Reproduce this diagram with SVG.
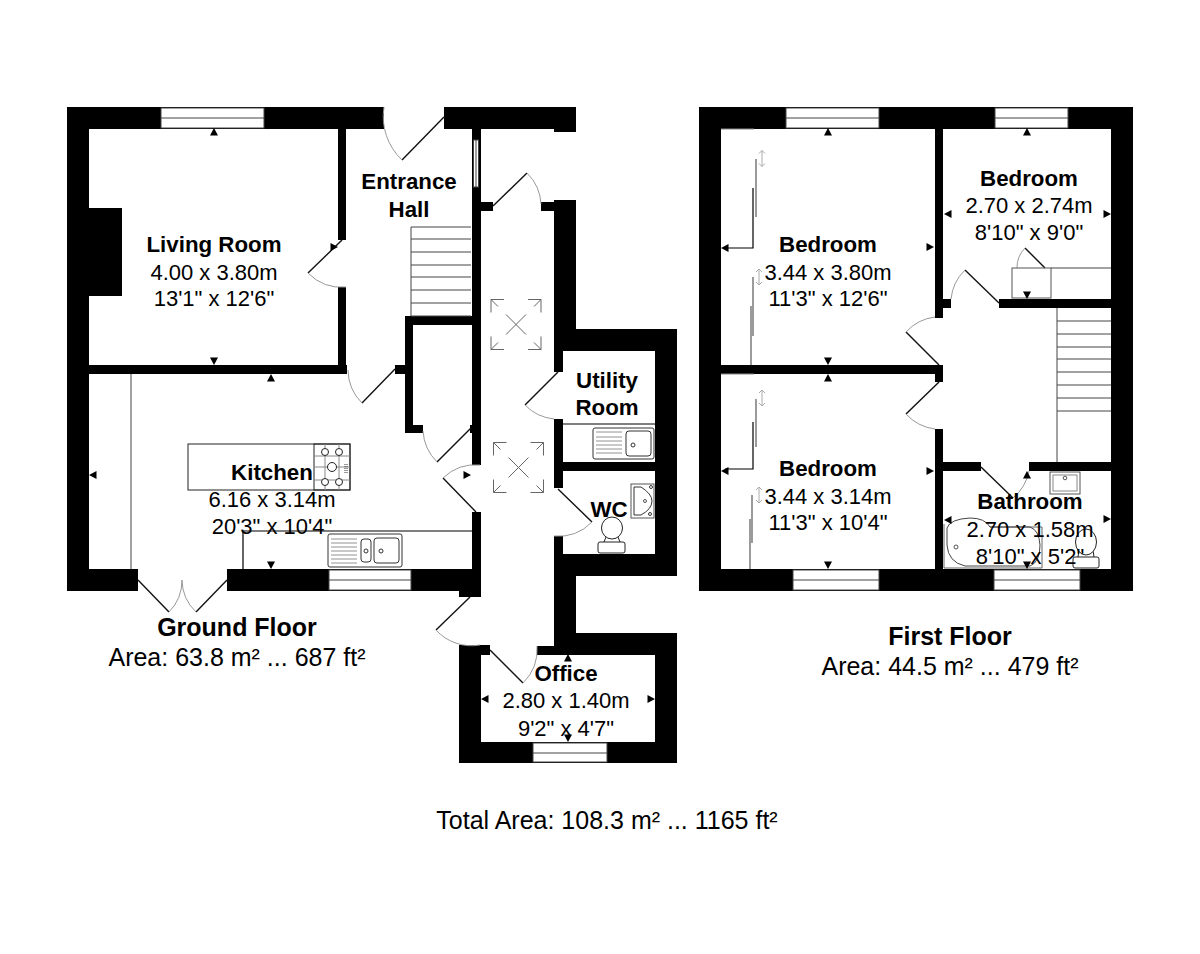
<svg xmlns="http://www.w3.org/2000/svg" width="1200" height="954" viewBox="0 0 1200 954">
<style>
text{font-family:"Liberation Sans",Arial,sans-serif;font-size:22px;fill:#000;text-anchor:middle}
.b{font-weight:bold;font-size:22.300px}
.t{font-size:25px}
.w{fill:#000}
.win{fill:#fff;stroke:#444;stroke-width:1}
.l{fill:none;stroke:#444;stroke-width:1}
.k{fill:none;stroke:#000;stroke-width:1.2}
.d{fill:none;stroke:#111;stroke-width:1.4}
.a{fill:none;stroke:#999;stroke-width:1}
.g{fill:none;stroke:#666;stroke-width:1.3}
.s{fill:none;stroke:#888;stroke-width:1}
.f{fill:#fff;stroke:#333;stroke-width:1}
</style>
<defs>
<polygon id="tri" points="0,-4 4,3.500 -4,3.500" fill="#000"/>
<g id="dbl" class="s"><path d="M0,-8V8M-3,-5L0,-8L3,-5M-3,5L0,8L3,5" fill="none" stroke="#aaa" stroke-width="1"/></g>
<g id="sky"><path d="M-25,-25H-12M12,-25H25V-12M25,12V25H12M-12,25H-25V12M-25,-12V-25M-25,-25L-18,-18M25,-25L18,-18M25,25L18,18M-25,25L-18,18M-10,-10L10,10M10,-10L-10,10" fill="none" stroke="#666" stroke-width="1"/></g>
</defs>
<rect width="1200" height="954" fill="#fff"/>

<g id="ground-walls" class="w">
<rect x="67" y="107" width="317" height="22"/>
<rect x="444" y="107" width="132" height="22"/>
<rect x="554" y="107" width="22" height="25"/>
<rect x="67" y="107" width="22" height="484"/>
<rect x="89" y="208" width="33" height="88"/>
<rect x="67" y="569" width="71" height="22"/>
<rect x="227" y="569" width="254" height="22"/>
<rect x="459" y="569" width="22" height="28"/>
<rect x="472" y="129" width="9" height="336"/>
<rect x="472" y="512" width="9" height="60"/>
<rect x="338" y="129" width="8" height="111"/>
<rect x="338" y="287" width="8" height="80"/>
<rect x="89" y="365" width="258" height="9"/>
<rect x="395" y="365" width="10" height="9"/>
<rect x="405" y="316" width="8" height="117"/>
<rect x="405" y="316" width="67" height="9"/>
<rect x="405" y="425" width="18" height="8"/>
<rect x="470" y="425" width="2" height="8"/>
<rect x="480" y="202" width="13" height="9"/>
<rect x="541" y="202" width="13" height="9"/>
<rect x="554" y="200" width="22" height="151"/>
<rect x="554" y="329" width="123" height="22"/>
<rect x="554" y="351" width="9" height="21"/>
<rect x="554" y="419" width="9" height="69"/>
<rect x="554" y="536" width="9" height="30"/>
<rect x="655" y="329" width="22" height="247"/>
<rect x="563" y="462" width="92" height="9"/>
<rect x="554" y="554" width="123" height="22"/>
<rect x="554" y="554" width="22" height="101"/>
<rect x="554" y="633" width="123" height="22"/>
<rect x="655" y="633" width="22" height="130"/>
<rect x="459" y="742" width="218" height="21"/>
<rect x="459" y="645" width="22" height="118"/>
<rect x="481" y="645" width="9" height="10"/>
<rect x="537" y="646" width="17" height="9"/>
</g>

<g id="first-walls" class="w">
<rect x="699" y="107" width="434" height="22"/>
<rect x="699" y="107" width="22" height="484"/>
<rect x="1111" y="107" width="22" height="484"/>
<rect x="699" y="569" width="434" height="22"/>
<rect x="935" y="129" width="8" height="189"/>
<rect x="943" y="299" width="8" height="9"/>
<rect x="999" y="299" width="112" height="9"/>
<rect x="721" y="365" width="222" height="9"/>
<rect x="935" y="365" width="8" height="17"/>
<rect x="935" y="429" width="8" height="140"/>
<rect x="943" y="462" width="38" height="9"/>
<rect x="1029" y="462" width="82" height="9"/>
</g>

<g id="windows">
<g class="win">
<rect x="161" y="108" width="103" height="20"/>
<rect x="329" y="570" width="82" height="20"/>
<rect x="533" y="743" width="74" height="19"/>
<rect x="473.500" y="140" width="5" height="47"/>
<rect x="786" y="108" width="93" height="20"/>
<rect x="995" y="108" width="73" height="20"/>
<rect x="793" y="570" width="86" height="20"/>
<rect x="994" y="570" width="86" height="20"/>
</g>
<path class="l" d="M161,118H264M329,580H411M533,753H607M476,140V187M786,118H879M995,118H1068M793,580H879M994,580H1080"/>
</g>

<g id="doors">
<g class="d">
<path d="M444,117L402,160"/><path d="M493,206L527,173"/><path d="M342,240L308,273"/><path d="M395,369L362,403"/>
<path d="M471,428L437,462"/><path d="M476,512L443,478"/><path d="M558,372L525,405"/><path d="M558,489L592,522"/>
<path d="M470,597L436,630"/><path d="M490,650L523,683"/><path d="M138,580L169,612"/><path d="M227,580L196,612"/>
<path d="M939,365L906,332"/><path d="M939,382L906,414"/><path d="M999,303L965,270"/><path d="M981,467L1013,498"/><path d="M1045,268L1025,248"/>
</g>
<g class="a">
<path d="M402,160A60,60 0 0 1 384,107"/><path d="M527,173A47,47 0 0 1 541,204"/><path d="M308,273A47,47 0 0 0 346,287"/><path d="M362,403A47,47 0 0 1 348,370"/>
<path d="M437,462A48,48 0 0 1 423,431"/><path d="M443,478A47,47 0 0 1 480,465"/><path d="M525,405A47,47 0 0 0 554,419"/><path d="M592,522A47,47 0 0 1 554,536"/>
<path d="M436,630A48,48 0 0 0 480,645"/><path d="M523,683A47,47 0 0 0 537,646"/><path d="M169,612A45,45 0 0 0 182,580"/><path d="M196,612A45,45 0 0 1 182,580"/>
<path d="M906,332A47,47 0 0 1 935,317"/><path d="M906,414A47,47 0 0 0 935,429"/><path d="M965,270A47,47 0 0 0 951,299"/><path d="M1013,498A47,47 0 0 0 1029,471"/><path d="M1025,248A28,28 0 0 0 1017,268"/>
</g>
</g>

<g id="stairs" class="l">
<path d="M411,316V227H471M411,239H471M411,252H471M411,265H471M411,277H471M411,290H471M411,303H471M411,316H471"/>
<path d="M1057,308V462M1057,321H1111M1057,334H1111M1057,347H1111M1057,359H1111M1057,372H1111M1057,385H1111M1057,398H1111M1057,411H1111"/>
</g>

<g id="skylights">
<use href="#sky" x="516" y="324.500"/>
<use href="#sky" x="518.500" y="467.500"/>
</g>

<g id="kitchen-fittings">
<path class="l" d="M131,374V569"/>
<path class="k" d="M243,569V531H472"/>
<rect x="188" y="444" width="162" height="46" fill="none" stroke="#222"/>
<rect x="314" y="444" width="36" height="46" fill="none" stroke="#222"/>
<path d="M325,444V490M339,444V490M314,456H350M314,467H350M314,480H350" fill="none" stroke="#888" stroke-width="1"/>
<g fill="#fff" stroke="#222"><circle cx="325" cy="452" r="3.500"/><circle cx="339" cy="452" r="3.500"/><circle cx="332" cy="467" r="4.500"/><circle cx="325" cy="482" r="3.500"/><circle cx="339" cy="482" r="3.500"/></g>
<path d="M345,464V474M347,464V474" stroke="#333" stroke-dasharray="1 1" fill="none"/>
<rect x="328" y="534" width="74" height="33" rx="2" fill="#fff" stroke="#333"/>
<path d="M331,539H357M331,543H357M331,547H357M331,551H357M331,555H357M331,559H357M331,563H357" stroke="#777" stroke-width="0.8" fill="none"/>
<rect x="361" y="539" width="10" height="23" rx="3" fill="none" stroke="#333"/>
<rect x="374" y="538" width="25" height="25" rx="3" fill="none" stroke="#333"/>
<circle cx="366" cy="551" r="2" fill="none" stroke="#333"/>
<circle cx="381" cy="551" r="2" fill="none" stroke="#333"/>
</g>

<g id="utility-fittings">
<path class="k" d="M563,424H655"/>
<rect x="593" y="428" width="61" height="31" rx="2" fill="#fff" stroke="#333"/>
<path d="M596,432H622M596,437H622M596,441H622M596,445H622M596,449H622M596,453H622" stroke="#777" stroke-width="0.8" fill="none"/>
<rect x="626" y="431" width="25" height="25" rx="3" fill="none" stroke="#333"/>
<circle cx="633" cy="445" r="2" fill="none" stroke="#333"/>
</g>

<g id="wc-fittings">
<rect x="631" y="484" width="23" height="34" fill="#fff" stroke="#555"/>
<path d="M634,487H641Q652,494 652,501Q652,509 641,515H634Z" fill="none" stroke="#333"/>
<circle cx="645" cy="501" r="1.500" fill="none" stroke="#555"/>
<circle cx="651" cy="487" r="1.500" fill="none" stroke="#333"/>
<circle cx="650" cy="514" r="1.500" fill="none" stroke="#333"/>
<path d="M606,537L604,542M618,537L620,542" stroke="#222" fill="none"/>
<ellipse cx="612" cy="528" rx="10.500" ry="11" fill="#fff" stroke="#222"/>
<rect x="598" y="542" width="27" height="11" rx="2" fill="#fff" stroke="#222"/>
</g>

<g id="wardrobes">
<path d="M721,129H754M721,374H754" stroke="#888" fill="none"/>
<path class="k" d="M725,248H753V188"/>
<path class="g" d="M756,159V217M753,277V336M751,306V365"/>
<path class="k" d="M725,469H753V422"/>
<path class="g" d="M756,399V447M752,495V543M750,519V569"/>
<use href="#dbl" x="762" y="158.500"/>
<use href="#dbl" x="759" y="277"/>
<use href="#dbl" x="762" y="398"/>
<use href="#dbl" x="759" y="495"/>
<rect x="1012" y="268" width="39" height="30" fill="none" stroke="#555"/>
<path class="l" d="M1051,268H1111"/>
</g>

<g id="bathroom-fittings">
<rect x="1050" y="472" width="30" height="22" fill="#fff" stroke="#555"/>
<rect x="1053" y="475" width="24" height="16" fill="none" stroke="#888"/>
<circle cx="1065" cy="478" r="1.800" fill="none" stroke="#555"/>
<path d="M944,524V568H1042V527H990" fill="none" stroke="#666"/>
<path d="M947,528Q950,519 970,518Q985,518 990,527H1030Q1039,530 1040,545Q1040,562 1030,566H965Q948,562 947,545Z" fill="none" stroke="#444"/>
<circle cx="956" cy="547" r="2" fill="none" stroke="#555"/>
<path d="M1079,550L1078,557M1093,550L1094,557" stroke="#222" fill="none"/>
<ellipse cx="1086" cy="542" rx="10.500" ry="13" fill="#fff" stroke="#222"/>
<rect x="1073" y="557" width="26" height="11" rx="2" fill="#fff" stroke="#222"/>
</g>

<g id="dimension-marks">
<use href="#tri" transform="translate(214,132)"/>
<use href="#tri" transform="translate(214,361) rotate(180)"/>
<use href="#tri" transform="translate(271,378)"/>
<use href="#tri" transform="translate(271,565) rotate(180)"/>
<use href="#tri" transform="translate(93,475) rotate(-90)"/>
<use href="#tri" transform="translate(467,475) rotate(90)"/>
<use href="#tri" transform="translate(334,247) rotate(90)"/>
<use href="#tri" transform="translate(568,658)"/>
<use href="#tri" transform="translate(568,738) rotate(180)"/>
<use href="#tri" transform="translate(485,699) rotate(-90)"/>
<use href="#tri" transform="translate(651,699) rotate(90)"/>
<use href="#tri" transform="translate(828,132)"/>
<use href="#tri" transform="translate(828,361) rotate(180)"/>
<use href="#tri" transform="translate(828,378)"/>
<use href="#tri" transform="translate(828,565) rotate(180)"/>
<use href="#tri" transform="translate(725,248) rotate(-90)"/>
<use href="#tri" transform="translate(930,247) rotate(90)"/>
<use href="#tri" transform="translate(725,471) rotate(-90)"/>
<use href="#tri" transform="translate(930,471) rotate(90)"/>
<use href="#tri" transform="translate(1027,132)"/>
<use href="#tri" transform="translate(1027,295) rotate(180)"/>
<use href="#tri" transform="translate(948,214) rotate(-90)"/>
<use href="#tri" transform="translate(1107,214) rotate(90)"/>
<use href="#tri" transform="translate(1027,475)"/>
<use href="#tri" transform="translate(1027,565) rotate(180)"/>
<use href="#tri" transform="translate(948,520) rotate(-90)"/>
<use href="#tri" transform="translate(1107,519) rotate(90)"/>
</g>

<g id="labels">
<text class="b" x="214" y="252">Living Room</text><text x="214" y="280">4.00 x 3.80m</text><text x="214" y="306">13'1" x 12'6"</text>
<text class="b" x="409" y="189">Entrance</text><text class="b" x="409" y="217">Hall</text>
<text class="b" x="607" y="388">Utility</text><text class="b" x="607" y="415">Room</text>
<text class="b" x="609" y="517">WC</text>
<text class="b" x="272" y="480">Kitchen</text><text x="272" y="507">6.16 x 3.14m</text><text x="272" y="534">20'3" x 10'4"</text>
<text class="b" x="566" y="681">Office</text><text x="566" y="708">2.80 x 1.40m</text><text x="566" y="736">9'2" x 4'7"</text>
<text class="b" x="828" y="252">Bedroom</text><text x="828" y="280">3.44 x 3.80m</text><text x="828" y="306">11'3" x 12'6"</text>
<text class="b" x="1029" y="186">Bedroom</text><text x="1029" y="213">2.70 x 2.74m</text><text x="1029" y="240">8'10" x 9'0"</text>
<text class="b" x="828" y="476">Bedroom</text><text x="828" y="504">3.44 x 3.14m</text><text x="828" y="530">11'3" x 10'4"</text>
<text class="b" x="1030" y="509">Bathroom</text><text x="1030" y="537">2.70 x 1.58m</text><text x="1030" y="564">8'10" x 5'2"</text>
<text class="b t" x="237" y="636" style="font-size:25px">Ground Floor</text><text class="t" x="237" y="666">Area: 63.8 m² ... 687 ft²</text>
<text class="b t" x="950" y="645" style="font-size:25px">First Floor</text><text class="t" x="950" y="675">Area: 44.5 m² ... 479 ft²</text>
<text class="t" x="607" y="829">Total Area: 108.3 m² ... 1165 ft²</text>
</g>
</svg>
